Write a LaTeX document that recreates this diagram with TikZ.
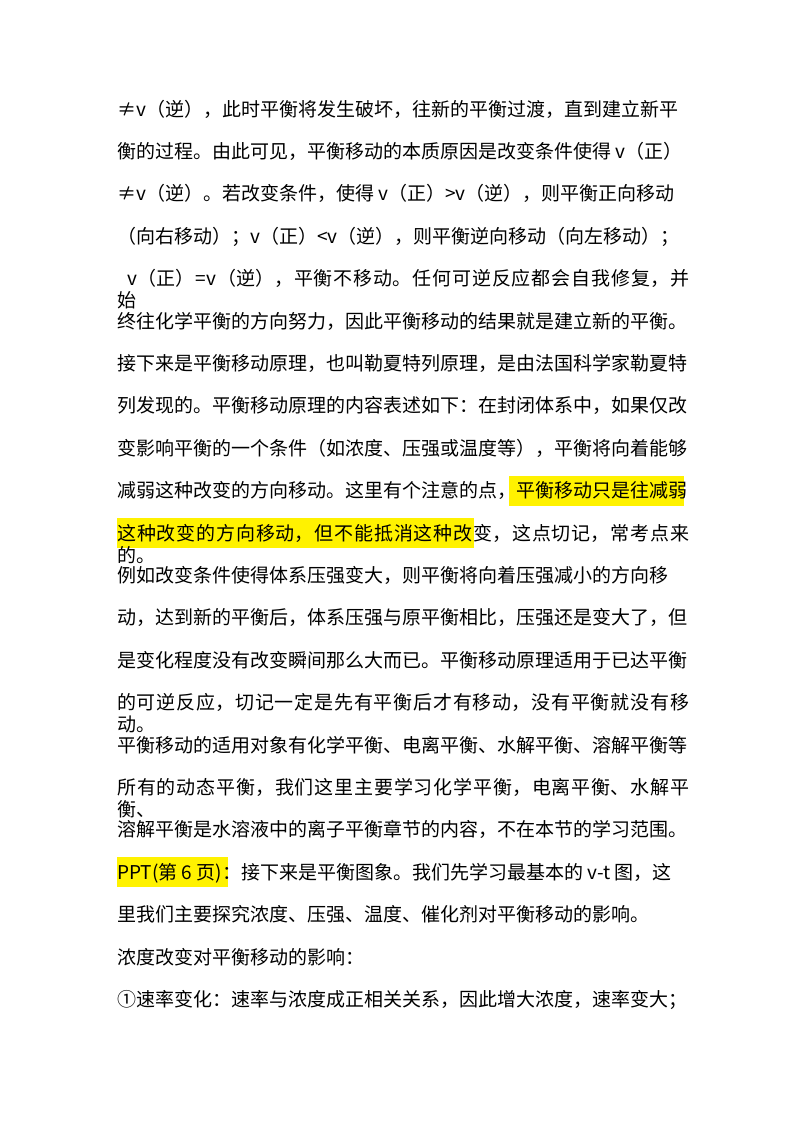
\documentclass[tikz,border=0pt]{standalone}
\usepackage{fontspec}
\setmainfont{Noto Sans CJK SC}
\XeTeXlinebreaklocale "zh"
\XeTeXlinebreakskip=0pt plus 2pt
\begin{document}
\begin{tikzpicture}[x=1pt,y=-1pt,
  ln/.style={anchor=base west,inner sep=0pt,font=\fontsize{19}{22}\selectfont},
  fl/.style={ln,text width=572pt,align=justify},
  hl/.style={fill=yellow}]
\useasboundingbox[fill=white] (0,0) rectangle (800,1132);
\def\dy{42.4}
% highlights
\fill[hl] (509,{109+9*\dy-15}) rectangle (684,{109+9*\dy+15});
\fill[hl] (117,{109+10*\dy-15}) rectangle (474,{109+10*\dy+15});
\fill[hl] (117,{109+18*\dy-15}) rectangle (228,{109+18*\dy+15});
\newcommand{\Ln}[3]{\node[#1] (l#2) at (117,{116+#2*\dy}) {\parfillskip=0pt #3};}
\newcommand{\Ls}[2]{\node[ln] (l#1) at (117,{116+#1*\dy}) {#2};}
\Ln{fl}{0}{≠v（逆），此时平衡将发生破坏，往新的平衡过渡，直到建立新平}
\Ln{fl}{1}{衡的过程。由此可见，平衡移动的本质原因是改变条件使得 v（正）}
\Ln{fl}{2}{≠v（逆）。若改变条件，使得 v（正）>v（逆），则平衡正向移动}
\Ln{fl}{3}{（向右移动）；v（正）<v（逆），则平衡逆向移动（向左移动）；}
\Ln{fl}{4}{\hspace*{10pt}v（正）=v（逆），平衡不移动。任何可逆反应都会自我修复，并始}
\Ln{fl}{5}{终往化学平衡的方向努力，因此平衡移动的结果就是建立新的平衡。}
\Ln{fl}{6}{接下来是平衡移动原理，也叫勒夏特列原理，是由法国科学家勒夏特}
\Ln{fl}{7}{列发现的。平衡移动原理的内容表述如下：在封闭体系中，如果仅改}
\Ln{fl}{8}{变影响平衡的一个条件（如浓度、压强或温度等），平衡将向着能够}
\Ln{fl}{9}{减弱这种改变的方向移动。这里有个注意的点，平衡移动只是往减弱}
\Ln{fl}{10}{这种改变的方向移动，但不能抵消这种改变，这点切记，常考点来的。}
\Ln{fl}{11}{例如改变条件使得体系压强变大，则平衡将向着压强减小的方向移}
\Ln{fl}{12}{动，达到新的平衡后，体系压强与原平衡相比，压强还是变大了，但}
\Ln{fl}{13}{是变化程度没有改变瞬间那么大而已。平衡移动原理适用于已达平衡}
\Ln{fl}{14}{的可逆反应，切记一定是先有平衡后才有移动，没有平衡就没有移动。}
\Ln{fl}{15}{平衡移动的适用对象有化学平衡、电离平衡、水解平衡、溶解平衡等}
\Ln{fl}{16}{所有的动态平衡，我们这里主要学习化学平衡，电离平衡、水解平衡、}
\Ln{fl}{17}{溶解平衡是水溶液中的离子平衡章节的内容，不在本节的学习范围。}
\Ln{fl}{18}{PPT(第 6 页)：接下来是平衡图象。我们先学习最基本的 v-t 图，这}
\Ls{19}{里我们主要探究浓度、压强、温度、催化剂对平衡移动的影响。}
\Ls{20}{浓度改变对平衡移动的影响：}
\Ln{fl}{21}{①速率变化：速率与浓度成正相关关系，因此增大浓度，速率变大；}
\end{tikzpicture}
\end{document}
